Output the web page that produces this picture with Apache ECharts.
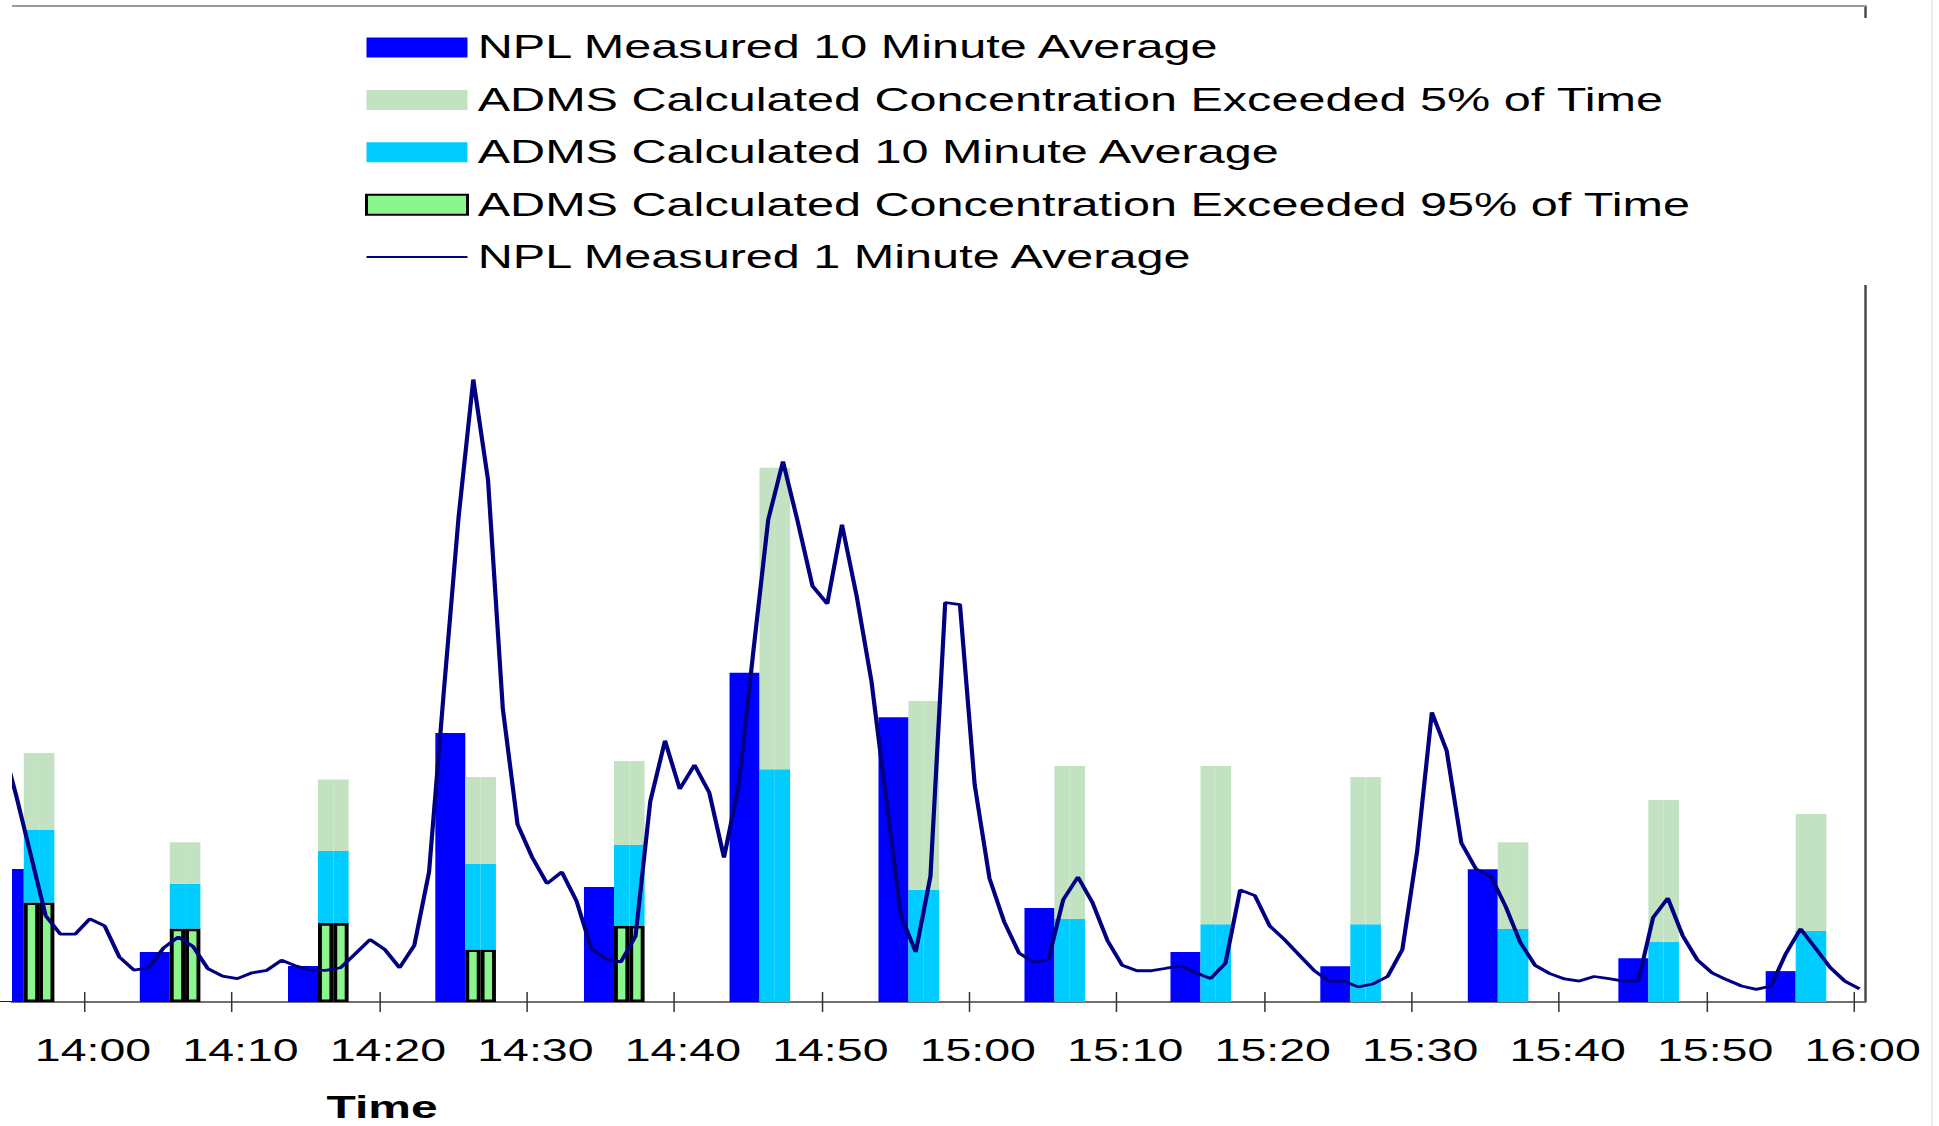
<!DOCTYPE html>
<html>
<head>
<meta charset="utf-8">
<script src="https://cdn.jsdelivr.net/npm/echarts@6/dist/echarts.min.js"></script>
<style>
html,body{margin:0;padding:0;background:#fff;overflow:hidden;}
#chart{width:1293px;height:1126px;transform-origin:0 0;}
</style>
</head>
<body>
<div id="chart"></div>
<script>
// ---- data (minutes after 14:00; concentration in relative units) ----
const tickValues = [0, 10, 20, 30, 40, 50, 60, 70, 80, 90, 100, 110, 120];
const tickLabels = ['14:00','14:10','14:20','14:30','14:40','14:50','15:00','15:10','15:20','15:30','15:40','15:50','16:00'];

const barTimes = [-4.09, 5.81, 15.86, 25.85, 35.93, 45.8, 55.9, 65.8, 75.7, 85.86, 95.86, 106.07, 116.06];
const nplTenMin = [13.35, 5.02, 3.61, 27.01, 11.55, 33.05, 28.6, 9.43, 5.02, 3.6, 13.34, 4.4, 3.1];
const admsExceed5 = [25.0, 16.04, 22.35, 22.6, 24.2, 53.63, 30.21, 23.7, 23.7, 22.58, 16.05, 20.29, 18.88];
const admsTenMin = [17.28, 11.87, 15.17, 13.85, 15.76, 23.38, 11.26, 8.34, 7.81, 7.81, 7.33, 6.02, 7.14];
const admsExceed95 = [10.0, 7.37, 7.92, 5.27, 7.63, null, null, null, null, null, null, null, null];

const lineStartMinute = -5.63;
const lineValues = [26.3, 20.75, 14.72, 8.68, 6.81, 6.81,
  8.35, 7.64, 4.52, 3.19, 3.44, 5.43, 6.52, 5.56, 3.35, 2.60,
  2.35, 2.93, 3.18, 4.19, 3.60, 3.18, 3.18, 3.44, 4.85, 6.27,
  5.27, 3.44, 5.68, 13.05, 31.15, 48.64, 62.5, 52.39, 29.49, 17.84,
  14.51, 11.89, 13.05, 10.14, 5.35, 4.31, 4.02, 6.60, 20.13, 26.24,
  21.38, 23.79, 21.04, 14.51, 21.79, 35.32, 48.43, 54.26, 48.22, 41.77,
  39.98, 47.93, 40.73, 32.20, 20.33, 8.68, 5.02, 12.63, 40.11, 39.90,
  21.79, 12.43, 8.05, 4.93, 3.98, 4.27, 10.26, 12.55, 9.93, 6.18,
  3.68, 3.14, 3.14, 3.39, 3.60, 2.93, 2.35, 3.89, 11.26, 10.68,
  7.64, 6.27, 4.73, 3.18, 2.10, 2.10, 1.52, 1.81, 2.56, 5.27,
  15.13, 29.08, 25.25, 15.96, 13.34, 12.63, 9.60, 5.97, 3.68, 2.85,
  2.31, 2.10, 2.56, 2.35, 2.10, 2.10, 8.47, 10.43, 6.68, 4.23,
  2.93, 2.23, 1.61, 1.27, 1.61, 4.85, 7.35, 5.43, 3.47, 2.10, 1.32];

const N1 = 'NPL Measured 10 Minute Average';
const N2 = 'ADMS Calculated Concentration Exceeded 5% of Time';
const N3 = 'ADMS Calculated 10 Minute Average';
const N4 = 'ADMS Calculated Concentration Exceeded 95% of Time';
const N5 = 'NPL Measured 1 Minute Average';

// ---- layout (the page is drawn narrow and stretched horizontally, like the original) ----
const S = 1939 / 1293;
const px = v => v / S;
const el = document.getElementById('chart');
el.style.transform = 'scaleX(' + S + ')';
const fam = '"Liberation Sans", Arial, Helvetica, sans-serif';
const xMin = -4.91, xMax = 120.74;

const chart = echarts.init(el, null, {renderer: 'svg', width: 1293, height: 1126});

const series = [];
series.push({
  name: N1, type: 'bar', stack: 'npl', barWidth: px(30), barGap: 0, clip: true,
  encode: {x: 1, y: 0},
  data: barTimes.map((t, i) => [nplTenMin[i], t]),
  itemStyle: {color: '#0000ff'}
});
['L', 'R'].forEach(side => {
  series.push({
    name: N4, type: 'bar', stack: 'adms' + side, barWidth: px(15.3), barGap: 0, clip: true,
    encode: {x: 1, y: 0},
    data: barTimes.map((t, i) => [admsExceed95[i], t]),
    itemStyle: {color: '#8df58d', borderColor: '#000', borderWidth: 2.6}
  });
  series.push({
    name: N3, type: 'bar', stack: 'adms' + side, barWidth: px(15.3), barGap: 0, clip: true,
    encode: {x: 1, y: 0},
    data: barTimes.map((t, i) => [admsTenMin[i] - (admsExceed95[i] || 0), t]),
    itemStyle: {color: '#00ccff'}
  });
  series.push({
    name: N2, type: 'bar', stack: 'adms' + side, barWidth: px(15.3), barGap: 0, clip: true,
    encode: {x: 1, y: 0},
    data: barTimes.map((t, i) => [admsExceed5[i] - admsTenMin[i], t]),
    itemStyle: {color: '#c2e2c2'}
  });
});
series.push({
  name: N5, type: 'line', z: 5,
  data: lineValues.map((v, i) => [lineStartMinute + i, v]),
  symbol: 'none', showSymbol: false,
  lineStyle: {color: '#000080', width: 2.8},
  itemStyle: {color: '#000080'}
});

const labelFor = v => {
  const k = tickValues.indexOf(Math.round(v));
  return k >= 0 ? tickLabels[k] : '';
};

chart.setOption({
  animation: false,
  backgroundColor: '#fff',
  textStyle: {fontFamily: fam},
  grid: {left: px(12), right: 1293 - px(1865), top: 6, bottom: 124, outerBoundsMode: 'none'},
  legend: {
    orient: 'vertical',
    left: px(365) - 10, top: 18,
    padding: [1.5, 140, 0, 10],
    backgroundColor: '#fff',
    itemWidth: px(101), itemHeight: 20, itemGap: -3.6,
    selectedMode: false,
    textStyle: {fontSize: 32.4, lineHeight: 32, color: '#000', fontFamily: fam, padding: [0, 0, 24, 1.8]},
    data: [
      {name: N1, icon: 'rect'},
      {name: N2, icon: 'rect'},
      {name: N3, icon: 'rect'},
      {name: N4, icon: 'rect'},
      {name: N5, itemStyle: {color: 'rgba(0,0,0,0)', borderColor: 'rgba(0,0,0,0)', borderWidth: 0, opacity: 0}}
    ]
  },
  xAxis: [
    {
      type: 'value', min: xMin, max: xMax, position: 'bottom',
      axisLine: {show: true, onZero: false, lineStyle: {color: '#707070', width: 2}},
      axisTick: {show: true, inside: false, length: 10, customValues: tickValues, lineStyle: {color: '#333', width: 1}},
      axisLabel: {
        show: true, customValues: tickValues, formatter: labelFor,
        fontSize: 31, lineHeight: 32, color: '#000', fontFamily: fam,
        margin: 32, padding: [0, 0, 0, 11.4]
      },
      splitLine: {show: false},
      name: 'Time', nameLocation: 'middle', nameGap: 91,
      nameTextStyle: {
        fontSize: 32, fontWeight: 'bold', color: '#000', fontFamily: fam, lineHeight: 28,
        padding: [0, 2 * (px((12 + 1865) / 2) - px(382.1)), 0, 0]
      }
    },
    {
      type: 'value', min: xMin, max: xMax, position: 'bottom',
      axisLine: {show: false},
      axisTick: {show: true, inside: true, length: 10, customValues: tickValues, lineStyle: {color: '#333', width: 1}},
      axisLabel: {show: false},
      splitLine: {show: false}
    },
    {
      type: 'value', min: xMin, max: xMax, position: 'top',
      axisLine: {show: true, onZero: false, lineStyle: {color: '#9a9a9a', width: 2}},
      axisTick: {show: false}, axisLabel: {show: false}, splitLine: {show: false}
    }
  ],
  yAxis: [{
    type: 'value', min: 0, max: 100, position: 'right',
    axisLine: {show: true, onZero: false, lineStyle: {color: '#444', width: 1.6}},
    axisTick: {show: false}, axisLabel: {show: false}, splitLine: {show: false}
  }],
  graphic: [
    {
      // white margin left of the plot area (the original picture is cropped there)
      type: 'rect', z: 50, silent: true,
      shape: {x: 0, y: 0, width: px(12), height: 1001},
      style: {fill: '#fff'}
    },
    {
      type: 'line', z: 100, silent: true,
      shape: {x1: px(1932), y1: 0, x2: px(1932), y2: 1126},
      style: {stroke: '#e2e8ee', lineWidth: 1}
    }
  ],
  series: series
});
</script>
</body>
</html>
